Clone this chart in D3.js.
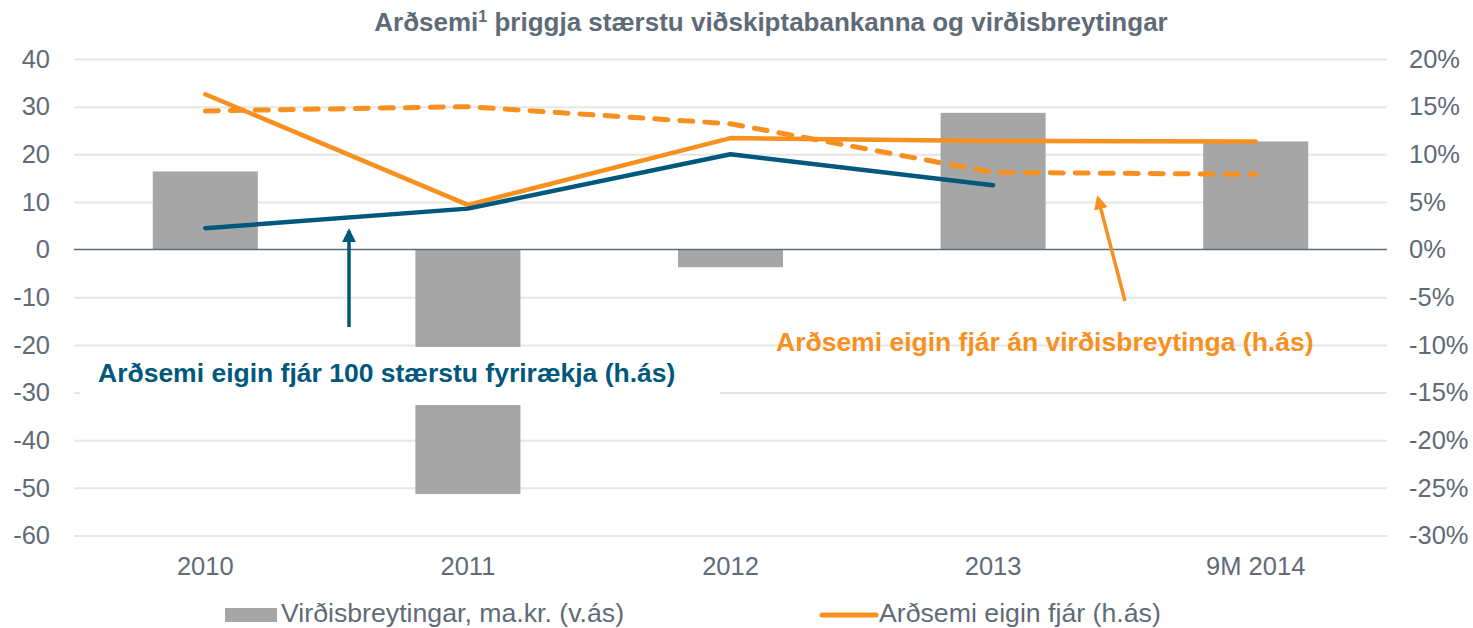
<!DOCTYPE html>
<html>
<head>
<meta charset="utf-8">
<script src="https://cdn.jsdelivr.net/npm/d3@7"></script>
<style>
  html, body { margin: 0; padding: 0; background: #ffffff; }
  svg { display: block; font-family: "Liberation Sans", Arial, sans-serif; }
</style>
</head>
<body>
<svg id="chart" width="1473" height="628"></svg>
<script>
// Categories (x axis)
const categories = ["2010", "2011", "2012", "2013", "9M 2014"];
// Value changes, ISK bn (left axis)
const valueChanges = [16.4, -51.3, -3.7, 28.7, 22.7];
// Return on equity of the three largest banks (right axis)
const roe = [0.163, 0.047, 0.117, 0.114, 0.1135];
// Return on equity excluding value changes (right axis)
const roeExValue = [0.1455, 0.150, 0.132, 0.081, 0.079];
// Return on equity, 100 largest companies (right axis)
const roeTop100 = [0.0225, 0.043, 0.100, 0.0675, null];
// Tick values
const leftTicks = [40, 30, 20, 10, 0, -10, -20, -30, -40, -50, -60];
const rightTicks = [0.20, 0.15, 0.10, 0.05, 0, -0.05, -0.10, -0.15, -0.20, -0.25, -0.30];

const title = "Arðsemi";
const titleRest = " þriggja stærstu viðskiptabankanna og virðisbreytingar";
const legendBar = "Virðisbreytingar, ma.kr. (v.ás)";
const legendLine = "Arðsemi eigin fjár (h.ás)";
const noteTop100 = "Arðsemi eigin fjár 100 stærstu fyrirækja (h.ás)";
const noteExValue = "Arðsemi eigin fjár án virðisbreytinga (h.ás)";

const C = {
  bar: "#a6a6a6",
  orange: "#f7901e",
  blue: "#00587c",
  grid: "#e6e6e6",
  zero: "#5f6b76",
  text: "#5f6b76"
};
const FONT = "Liberation Sans, Arial, sans-serif";
const AXIS_SIZE = 25.5;

const svg = d3.select("#chart");
const plotL = 74, plotR = 1387, plotT = 59, plotB = 535.5;

const x = d3.scaleBand().domain(categories).range([plotL, plotR])
  .paddingInner(0.6).paddingOuter(0.3);
const yL = d3.scaleLinear().domain([-60, 40]).range([plotB, plotT]);
const yR = d3.scaleLinear().domain([-0.30, 0.20]).range([plotB, plotT]);
const cx = c => x(c) + x.bandwidth() / 2;

// Title
const t = svg.append("text")
  .attr("x", 771).attr("y", 31)
  .attr("text-anchor", "middle")
  .attr("font-size", 26).attr("font-weight", "bold")
  .attr("fill", C.text);
t.append("tspan").text(title);
t.append("tspan").attr("font-size", 16).attr("dy", -9).text("1");
t.append("tspan").attr("dy", 9).text(titleRest);

// Gridlines
svg.append("g")
  .attr("transform", `translate(${plotL},0)`)
  .call(d3.axisRight(yL).tickValues(leftTicks.filter(v => v !== 0))
    .tickSize(plotR - plotL).tickFormat(""))
  .call(g => g.select(".domain").remove())
  .call(g => g.selectAll("line").attr("stroke", C.grid).attr("stroke-width", 2));

// Left axis labels
svg.append("g")
  .attr("transform", `translate(${plotL},0)`)
  .call(d3.axisLeft(yL).tickValues(leftTicks).tickSize(0).tickPadding(24)
    .tickFormat(d => String(d)))
  .call(g => g.select(".domain").remove())
  .call(g => g.selectAll("text").attr("font-size", AXIS_SIZE).attr("fill", C.text)
    .attr("font-family", FONT));

// Right axis labels
svg.append("g")
  .attr("transform", `translate(${plotR},0)`)
  .call(d3.axisRight(yR).tickValues(rightTicks).tickSize(0).tickPadding(22)
    .tickFormat(d => Math.round(d * 100) + "%"))
  .call(g => g.select(".domain").remove())
  .call(g => g.selectAll("text").attr("font-size", AXIS_SIZE).attr("fill", C.text)
    .attr("font-family", FONT));

// Bars
svg.append("g").selectAll("rect")
  .data(categories)
  .join("rect")
  .attr("x", d => x(d))
  .attr("width", x.bandwidth())
  .attr("y", (d, i) => yL(Math.max(0, valueChanges[i])))
  .attr("height", (d, i) => Math.abs(yL(valueChanges[i]) - yL(0)))
  .attr("fill", C.bar);

// Zero line
svg.append("line")
  .attr("x1", plotL).attr("x2", plotR)
  .attr("y1", yL(0)).attr("y2", yL(0))
  .attr("stroke", C.zero).attr("stroke-width", 1.5);

// Category labels
svg.append("g")
  .attr("transform", `translate(0,${plotB})`)
  .call(d3.axisBottom(x).tickSize(0).tickPadding(21))
  .call(g => g.select(".domain").remove())
  .call(g => g.selectAll("text").attr("font-size", AXIS_SIZE).attr("fill", C.text)
    .attr("font-family", FONT));

// Lines
const line = d3.line()
  .defined(d => d.v != null)
  .x(d => cx(d.c)).y(d => yR(d.v));
const series = (vals) => categories.map((c, i) => ({ c, v: vals[i] }));

svg.append("path").datum(series(roeExValue))
  .attr("d", line).attr("fill", "none")
  .attr("stroke", C.orange).attr("stroke-width", 5)
  .attr("stroke-dasharray", "13,12").attr("stroke-linecap", "round");

svg.append("path").datum(series(roe))
  .attr("d", line).attr("fill", "none")
  .attr("stroke", C.orange).attr("stroke-width", 4.5)
  .attr("stroke-linecap", "round").attr("stroke-linejoin", "round");

svg.append("path").datum(series(roeTop100))
  .attr("d", line).attr("fill", "none")
  .attr("stroke", C.blue).attr("stroke-width", 4.5)
  .attr("stroke-linecap", "round").attr("stroke-linejoin", "round");

// Arrow markers
const defs = svg.append("defs");
[["arrowBlue", C.blue], ["arrowOrange", C.orange]].forEach(([id, col]) => {
  defs.append("marker")
    .attr("id", id).attr("viewBox", "0 0 10 10")
    .attr("refX", 8).attr("refY", 5)
    .attr("markerWidth", 4).attr("markerHeight", 4)
    .attr("markerUnits", "strokeWidth")
    .attr("orient", "auto")
    .append("path").attr("d", "M0,0 L10,5 L0,10 Z").attr("fill", col);
});

// Annotation: 100 largest companies
svg.append("rect")
  .attr("x", 80).attr("y", 347).attr("width", 640).attr("height", 58)
  .attr("fill", "#ffffff");
svg.append("text")
  .attr("x", 98).attr("y", 382)
  .attr("font-size", 26.5).attr("font-weight", "bold")
  .attr("fill", C.blue).text(noteTop100);
svg.append("line")
  .attr("x1", 349).attr("y1", 327).attr("x2", 349).attr("y2", 231)
  .attr("stroke", C.blue).attr("stroke-width", 3.5)
  .attr("marker-end", "url(#arrowBlue)");

// Annotation: excluding value changes
svg.append("text")
  .attr("x", 776).attr("y", 351)
  .attr("font-size", 26.5).attr("font-weight", "bold")
  .attr("fill", C.orange).text(noteExValue);
svg.append("line")
  .attr("x1", 1125).attr("y1", 301).attr("x2", 1098).attr("y2", 198)
  .attr("stroke", C.orange).attr("stroke-width", 3.5)
  .attr("marker-end", "url(#arrowOrange)");

// Legend
const lg = svg.append("g");
lg.append("rect").attr("x", 225).attr("y", 608).attr("width", 52).attr("height", 14)
  .attr("fill", C.bar);
lg.append("text").attr("x", 281).attr("y", 622).attr("font-size", 26.7)
  .attr("fill", C.text).text(legendBar);
lg.append("line").attr("x1", 822).attr("x2", 876).attr("y1", 615).attr("y2", 615)
  .attr("stroke", C.orange).attr("stroke-width", 5).attr("stroke-linecap", "round");
lg.append("text").attr("x", 879).attr("y", 622).attr("font-size", 26.7)
  .attr("fill", C.text).text(legendLine);
</script>
</body>
</html>
